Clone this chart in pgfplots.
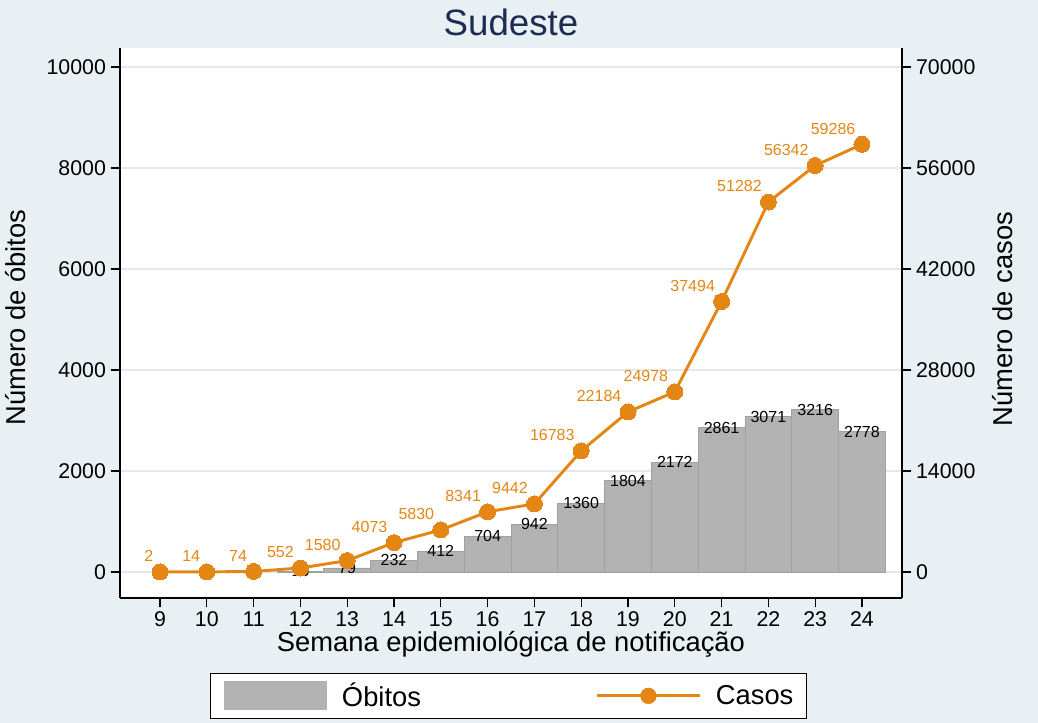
\documentclass[border=0pt]{standalone}
\usepackage{pgfplots}
\pgfplotsset{compat=1.18}
\usepackage{fontspec}
\setmainfont{Liberation Sans}
\definecolor{bgc}{RGB}{232,240,243}
\definecolor{barc}{RGB}{178,178,178}
\definecolor{bard}{RGB}{160,160,160}
\definecolor{linec}{RGB}{228,134,20}
\definecolor{gridc}{RGB}{228,234,236}
\definecolor{titlec}{RGB}{28,44,82}
\pgfkeys{/pgf/number format/.cd, set thousands separator={}, assume math mode=true, fixed}
\begin{document}
\begin{tikzpicture}
\fill[bgc] (0pt,0pt) rectangle (778.5pt,542.25pt);
\node[font=\fontsize{27.5}{33}\selectfont, text=titlec] at (383.25pt,525.75pt) {Sudeste};
\begin{axis}[
  at={(90pt,93.75pt)}, anchor=south west,
  scale only axis, width=586.5pt, height=412.5pt,
  xmin=8.145, xmax=24.855, ymin=-515, ymax=10376,
  axis x line*=bottom, axis y line*=left,
  axis line style={line width=1pt, -},
  xtick={9,...,24}, ytick={0,2000,...,10000},
  scaled ticks=false,
  ymajorgrids, grid style={color=gridc, line width=1.2pt},
  tick align=outside, major tick length=7pt,
  tick style={line width=1pt, black},
  ticklabel style={font=\fontsize{16}{19}\selectfont},
  axis background/.style={fill=white},
  xlabel={Semana epidemiológica de notificação},
  ylabel={Número de óbitos},
  label style={font=\fontsize{20.5}{24}\selectfont},
  xlabel style={at={(axis description cs:0.5,-0.085)}, anchor=center},
  ylabel style={at={(axis description cs:-0.133,0.51)}, anchor=center},
  clip=false,
]
\addplot[ybar, bar width=1, fill=barc, draw=bard, line width=0.6pt,
  nodes near coords,
  every node near coord/.append style={anchor=center, text=black, inner sep=0pt, font=\fontsize{12}{14}\selectfont}]
  coordinates {(12,15) (13,79) (14,232) (15,412) (16,704) (17,942) (18,1360) (19,1804) (20,2172) (21,2861) (22,3071) (23,3216) (24,2778)};
\end{axis}
\begin{axis}[
  at={(90pt,93.75pt)}, anchor=south west,
  scale only axis, width=586.5pt, height=412.5pt,
  xmin=8.145, xmax=24.855, ymin=-3605, ymax=72632,
  hide x axis, axis y line*=right,
  axis line style={line width=1pt, -},
  ytick={0,14000,...,70000},
  scaled ticks=false,
  tick align=outside, major tick length=7pt,
  tick style={line width=1pt, black},
  ticklabel style={font=\fontsize{16}{19}\selectfont},
  ylabel={Número de casos},
  label style={font=\fontsize{20.5}{24}\selectfont},
  ylabel style={at={(axis description cs:1.129,0.507)}, anchor=center, rotate=0},
  clip=false,
  legend style={at={(0.4968,-0.178)}, anchor=center, draw=black, line width=0.8pt,
    font=\fontsize{20.5}{24}\selectfont, inner xsep=10pt, inner ysep=6pt,
    nodes={inner sep=0pt},
    /tikz/column 1/.style={column sep=11pt},
    /tikz/column 2/.style={column sep=131pt},
    /tikz/column 3/.style={column sep=11pt}},
  legend columns=2,
]
\addlegendimage{legend image code/.code={\fill[barc] (0pt,-10.5pt) rectangle (77pt,10.5pt);}}
\addlegendentry{Óbitos}
\addplot[color=linec, line width=2.2pt, mark=*, mark size=6pt,
  mark options={fill=linec, draw=linec, line width=0pt},
  legend image code/.code={\draw[linec, line width=2.2pt] (0pt,0pt) -- (77pt,0pt); \fill[linec] (38.5pt,0pt) circle (5pt);},
  nodes near coords,
  every node near coord/.append style={anchor=south east, text=linec, inner sep=0pt, xshift=-5pt, yshift=7.5pt, font=\fontsize{12}{14}\selectfont}]
  coordinates {(9,2) (10,14) (11,74) (12,552) (13,1580) (14,4073) (15,5830) (16,8341) (17,9442) (18,16783) (19,22184) (20,24978) (21,37494) (22,51282) (23,56342) (24,59286)};
\addlegendentry{Casos}
\end{axis}
\end{tikzpicture}
\end{document}
